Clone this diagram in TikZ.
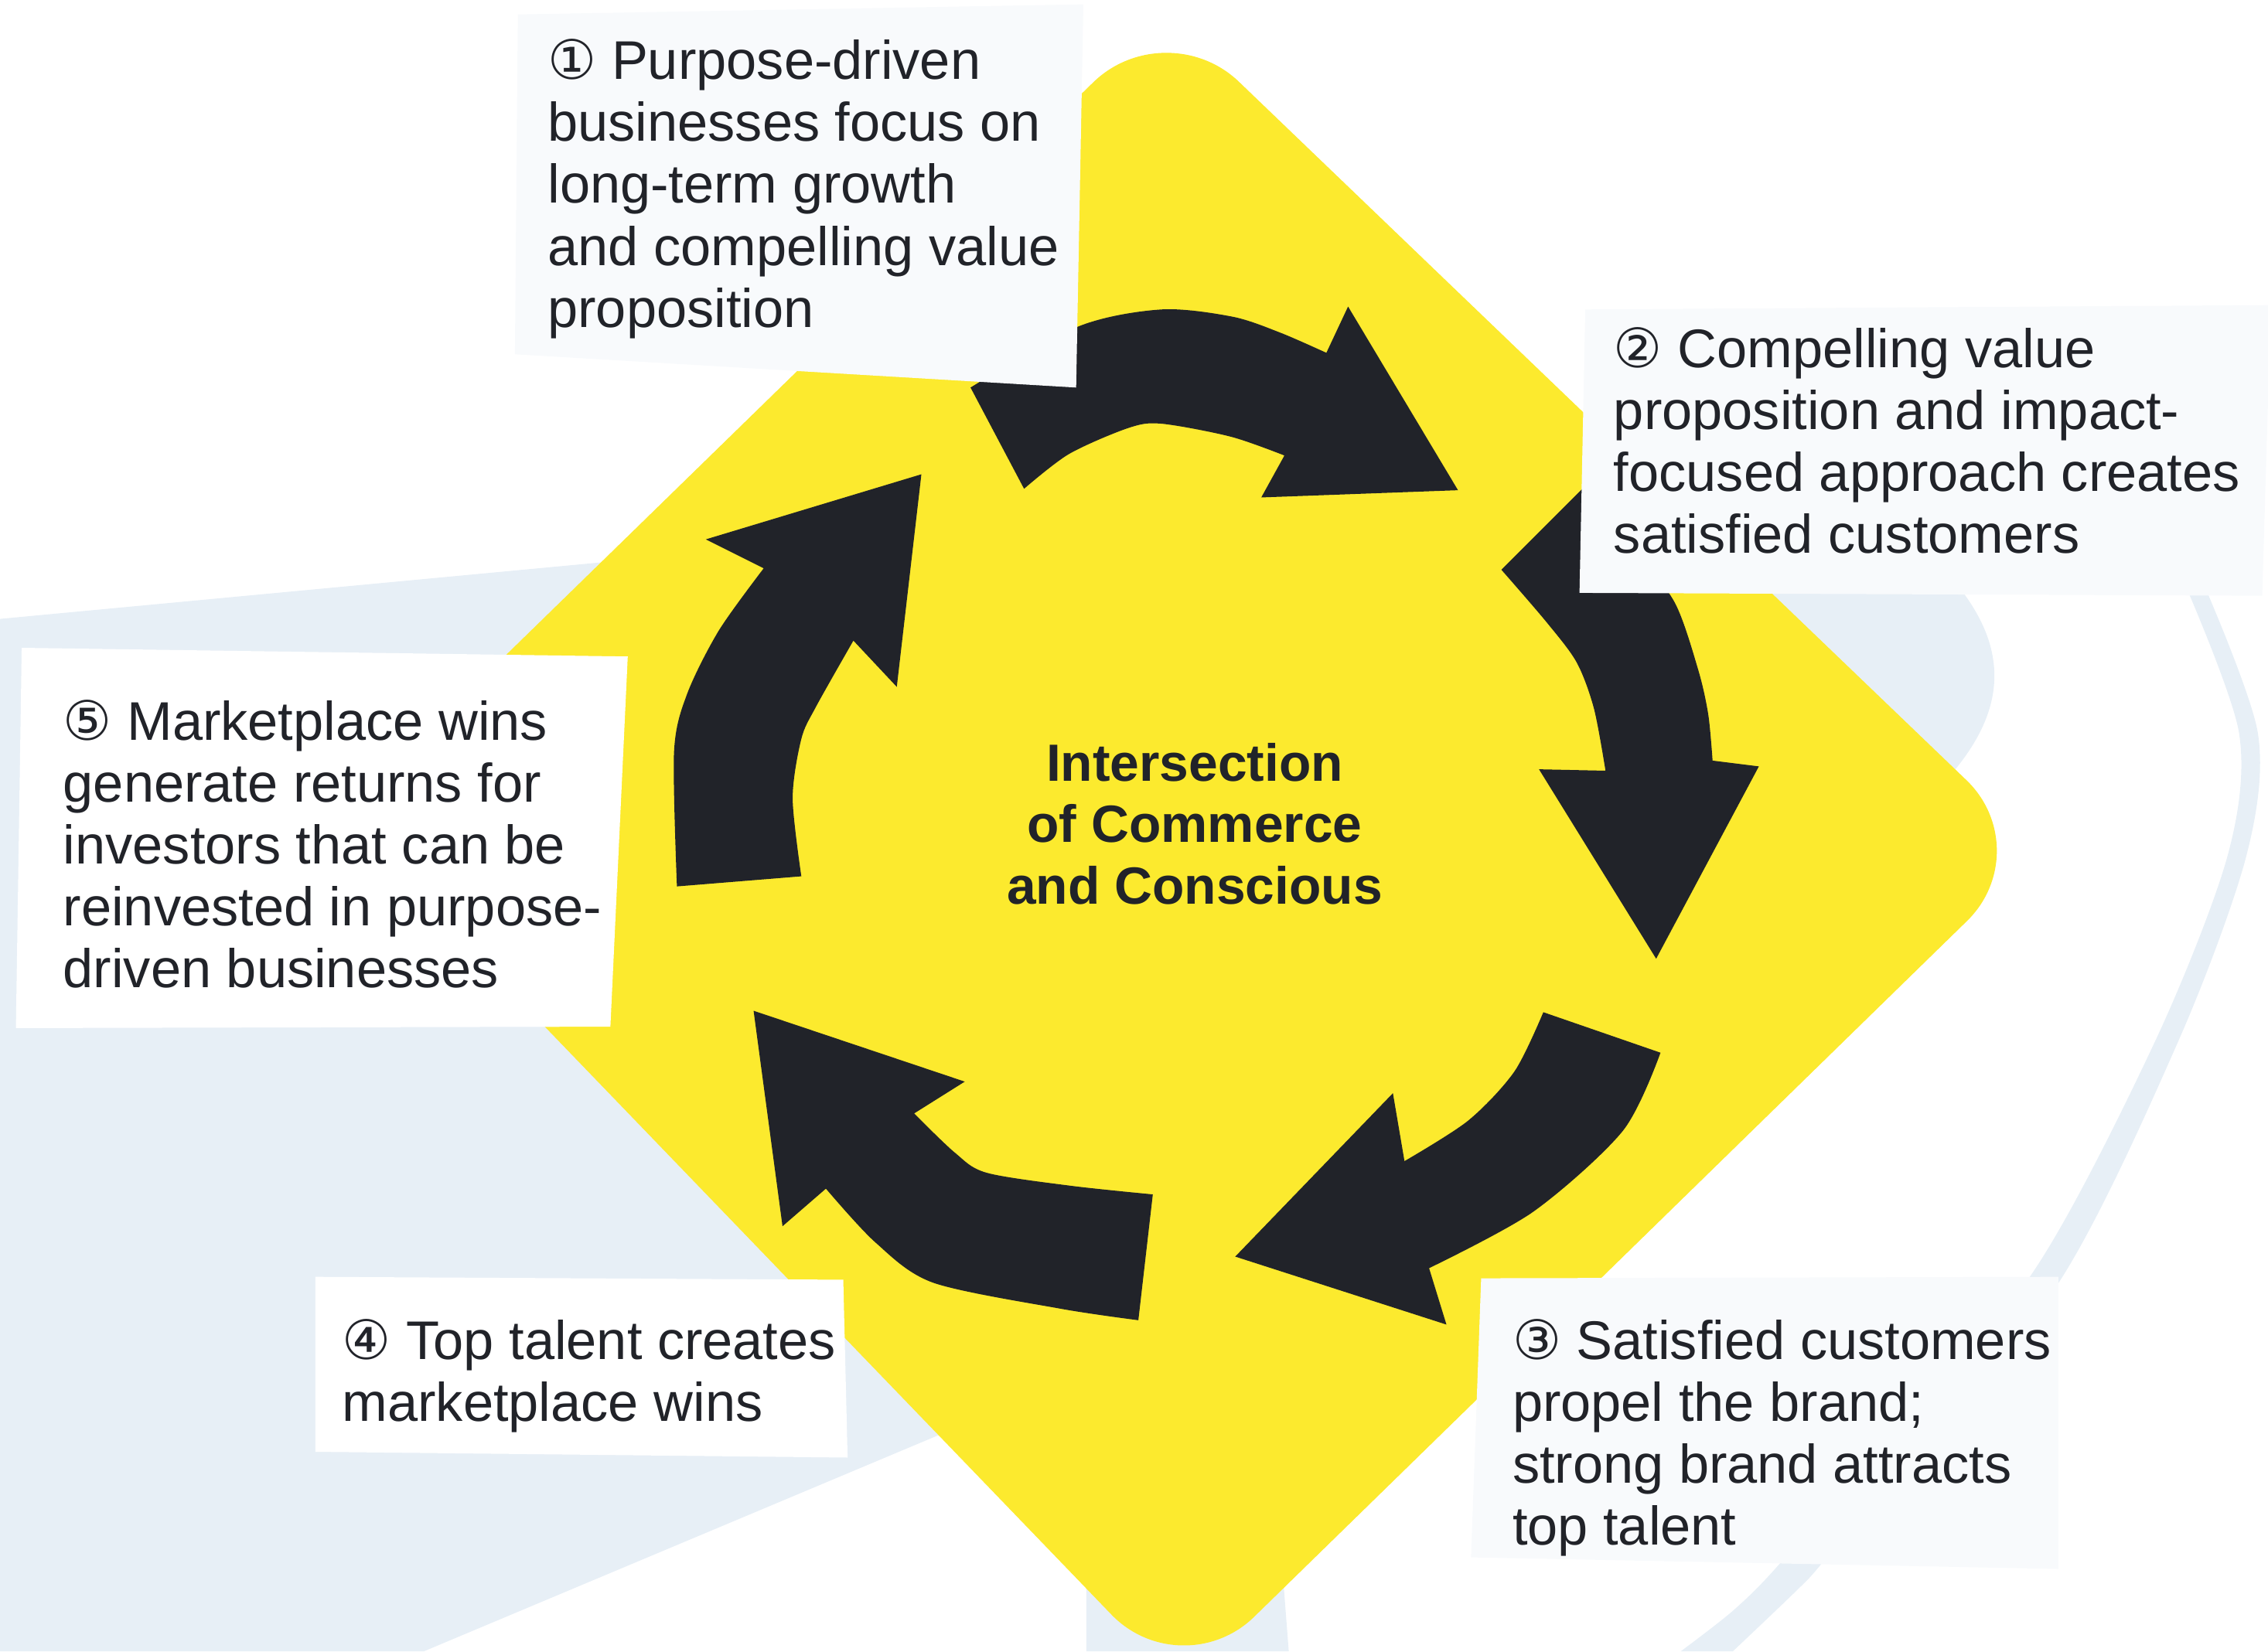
\documentclass[tikz,border=0pt]{standalone}
\usepackage{fontspec}
\setmainfont{Liberation Sans}
\newfontfamily\circfont{DejaVu Sans}
\definecolor{sunyellow}{HTML}{FCEA2E}
\definecolor{ink}{HTML}{212329}
\definecolor{haze}{HTML}{E7EFF6}
\definecolor{paper}{HTML}{F8FAFC}
\newcommand\circnum[1]{{\circfont #1}}
\newcommand\lines[1]{\begin{tabular}[t]{@{}l@{}}#1\end{tabular}}
\tikzset{
  note/.style={anchor=base west, inner sep=0pt, text=ink, font=\fontsize{10.7}{12.17}\selectfont},
  hubtext/.style={anchor=base, inner sep=0pt, text=ink, font=\bfseries\fontsize{10.3}{12.1}\selectfont},
  turn/.style={fill=ink},
}

\begin{document}
\begin{tikzpicture}[x=0.01cm, y=-0.01cm]
\useasboundingbox (0,0) rectangle (1568,1142);
% pale shapes behind
\fill[haze] (0,428) -- (500,381) -- (700,900) -- (700,971) -- (293,1142) -- (0,1142) -- cycle;
\fill[haze] (751,1000) -- (880,1000) -- (891,1142) -- (751,1142) -- cycle;
\fill[haze] (1200,380) -- (1330,380) .. controls (1395,440) and (1390,490) .. (1345,540) -- (1250,560) -- cycle;
\fill[haze] plot[smooth] coordinates {(1524,405) (1561,507) (1553,592) (1506,720) (1422,889) (1300,1030) (1258,1083) (1241,1101) (1198,1142)}
  -- plot[smooth] coordinates {(1162,1142) (1198,1114) (1229,1083) (1290,1010) (1404,882) (1490,720) (1540,592) (1548,507) (1511,405)} -- cycle;
% the yellow diamond
\fill[sunyellow, rounded corners=0.7cm] (521,286) -- (806,8) -- (1410,588) -- (817,1167) -- (236,564) -- cycle;
% five arrows
\fill[turn] plot[smooth] coordinates {(671,268) (745,226) (803,214) (852,219) (885,230) (917,244)}
  -- (932,212) -- (1008,339) -- (872,344) -- (888,315)
  -- plot[smooth] coordinates {(888,315) (851,302) (803,293) (780,296) (739,314) (708,338)} -- cycle;
\fill[turn] (1038,394) -- plot[smooth] coordinates {(1095,337) (1130,380) (1158,417) (1174,463) (1181,494) (1184,526)}
  -- (1216,530) -- (1145,663) -- (1064,532)
  -- plot[smooth] coordinates {(1110,533) (1102,490) (1090,458) (1069,430) (1038,394)} -- cycle;
\fill[turn] (1067,700) -- plot[smooth] coordinates {(1148,728) (1122,782) (1060,838) (988,877)}
  -- (1000,916) -- (854,869) -- (963,756)
  -- plot[smooth] coordinates {(971,803) (1015,775) (1047,741) (1067,700)} -- cycle;
\fill[turn] (797,826) -- plot[smooth] coordinates {(787,913) (733,905) (645,887) (605,859) (571,822)}
  -- (541,848) -- (521,699) -- (667,748)
  -- plot[smooth] coordinates {(632,770) (660,797) (682,811) (740,820) (797,826)} -- cycle;
\fill[turn] (468,613) -- plot[smooth] coordinates {(554,606) (548,552) (554,511) (564,489) (590,443)}
  -- (620,475) -- (637,328) -- (488,373)
  -- plot[smooth] coordinates {(528,393) (497,436) (475,480) (466,520) (468,613)} -- cycle;
% cards
\fill[paper] (358,10) -- (749,3) -- (744,268) -- (356,245) -- cycle;
\fill[paper] (1096,214) -- (1570,211) -- (1564,412) -- (1092,410) -- cycle;
\fill[paper] (1024,884) -- (1423,883) -- (1423,1085) -- (1017,1077) -- cycle;
\fill[white] (218,883) -- (583,885) -- (586,1008) -- (218,1004) -- cycle;
\fill[white] (15,448) -- (434,454) -- (422,710) -- (11,711) -- cycle;
\node[note] (step1) at (378,55) {\lines{\circnum{①} Purpose-driven\\ businesses focus on\\ long-term growth\\ and compelling value\\ proposition}};
\node[note] (step2) at (1115,254) {\lines{\circnum{②} Compelling value\\ proposition and impact-\\ focused approach creates\\ satisfied customers}};
\node[note] (step3) at (1045,940) {\lines{\circnum{③} Satisfied customers\\ propel the brand;\\ strong brand attracts\\ top talent}};
\node[note] (step4) at (236,940) {\lines{\circnum{④} Top talent creates\\ marketplace wins}};
\node[note] (step5) at (43,512) {\lines{\circnum{⑤} Marketplace wins\\ generate returns for\\ investors that can be\\ reinvested in purpose-\\ driven businesses}};
\node[hubtext] (hub) at (826,540) {\begin{tabular}[t]{@{}c@{}}Intersection\\ of Commerce\\ and Conscious\end{tabular}};
\end{tikzpicture}
\end{document}
